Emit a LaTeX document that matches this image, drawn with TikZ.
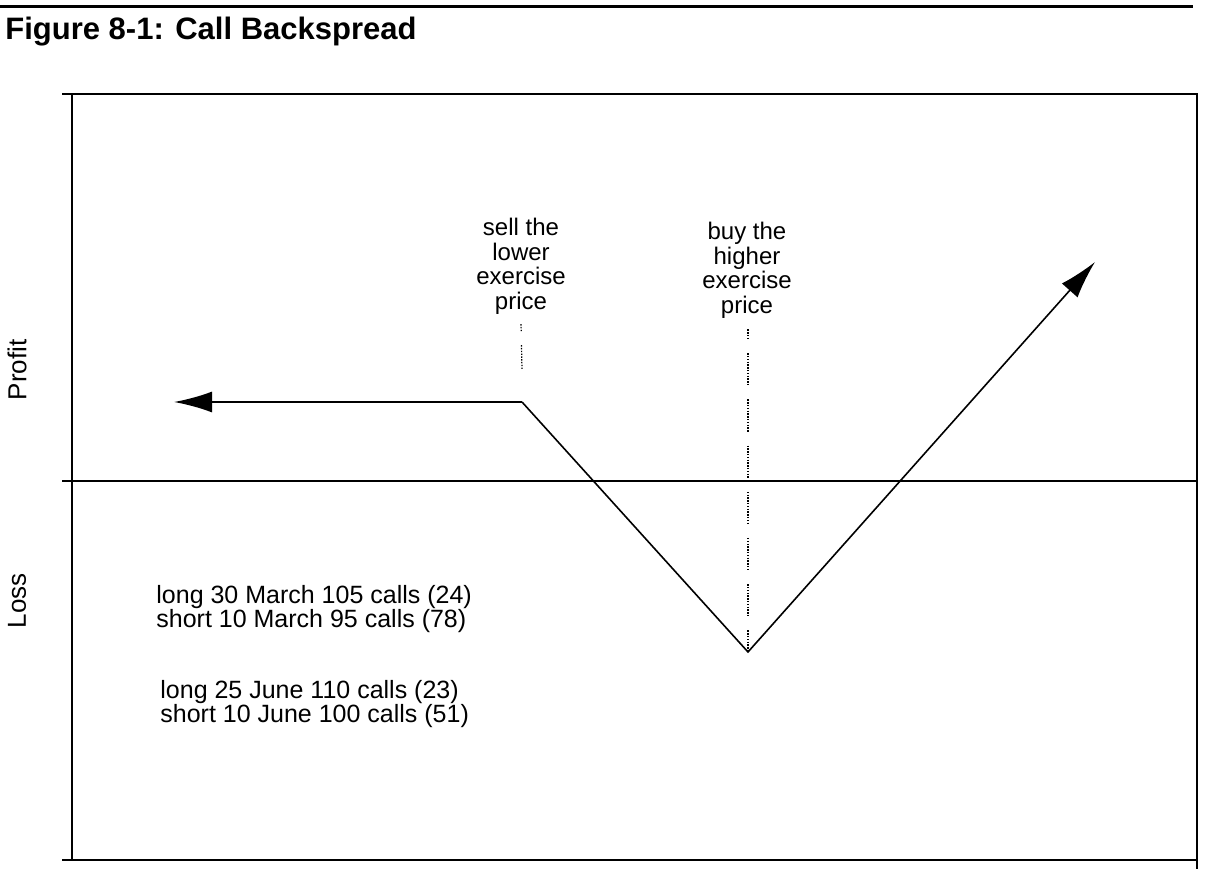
\documentclass[tikz,border=0pt]{standalone}
\usepackage{fontspec}
\setmainfont{Liberation Sans}
\usetikzlibrary{arrows.meta}
\tikzset{>={Latex[length=19pt, width=10.5pt]}}
\newcommand\legfont{\fontsize{12.5}{12}\selectfont}
\newcommand\notefont{\fontsize{12}{12.3}\selectfont}

\begin{document}
\begin{tikzpicture}[x=0.5pt, y=-0.5pt,
	frame/.style={line width=0.8pt},
	payoff/.style={line width=0.8pt},
	guide/.style={line width=0.6pt, dash pattern=on 0.7pt off 0.7pt on 0.7pt off 0.7pt on 0.7pt off 0.7pt on 0.7pt off 0.7pt on 0.7pt off 0.7pt on 0.7pt off 0.7pt on 0.7pt off 0.7pt on 0.7pt off 0.7pt on 0.7pt off 0.7pt on 0.7pt off 0.7pt on 0.7pt off 0.7pt on 0.7pt off 7pt},
	note/.style={font=\notefont, align=center, inner sep=0pt},
	legs/.style={font=\legfont, align=left, inner sep=0pt},
	side/.style={font=\fontsize{13}{13}\selectfont, rotate=90, inner sep=0pt}]
	\useasboundingbox (0,0) rectangle (1211,886);
	% title and rule
	\draw[line width=1.5pt] (0,7) -- (1193,7);
	\node[anchor=base west, inner sep=0pt, font=\bfseries\fontsize{15.5}{15}\selectfont] (title) at (5,40) {Figure 8-1: Call Backspread};
	% frame with the zero line
	\draw[frame] (72,94) rectangle (1197,860);
	\draw[frame] (62,94) -- (72,94);
	\draw[frame] (62,481) -- (1197,481);
	\draw[frame] (62,860) -- (72,860);
	\draw[frame] (1197,860) -- (1197,869);
	\node[side] (profit) at (17,370) {Profit};
	\node[side] (loss) at (17,601) {Loss};
	% payoff
	\coordinate (flat) at (174,402);
	\coordinate (kink) at (522,402);
	\coordinate (low) at (748,652);
	\coordinate (high) at (1095,262);
	\draw[payoff, line width=1pt, ->] (kink) -- (flat);
	\draw[payoff, ->] (kink) -- (low) -- (high);
	% exercise prices
	\node[note, anchor=north] (sell) at (521,218) {sell the\\lower\\exercise\\price};
	\node[note, anchor=north] (buy) at (747,222) {buy the\\higher\\exercise\\price};
	\draw[guide, dash phase=12pt] (sell.south) ++(0,8) -- (kink |- 0,370);
	\draw[guide, dash phase=11pt] (buy.south) ++(1,10) -- (low);
	% positions
	\node[legs, anchor=north west] (march) at (156,585) {long 30 March 105 calls (24)\\short 10 March 95 calls (78)};
	\node[legs, anchor=north west] (june) at (160,680) {long 25 June 110 calls (23)\\short 10 June 100 calls (51)};
\end{tikzpicture}
\end{document}
